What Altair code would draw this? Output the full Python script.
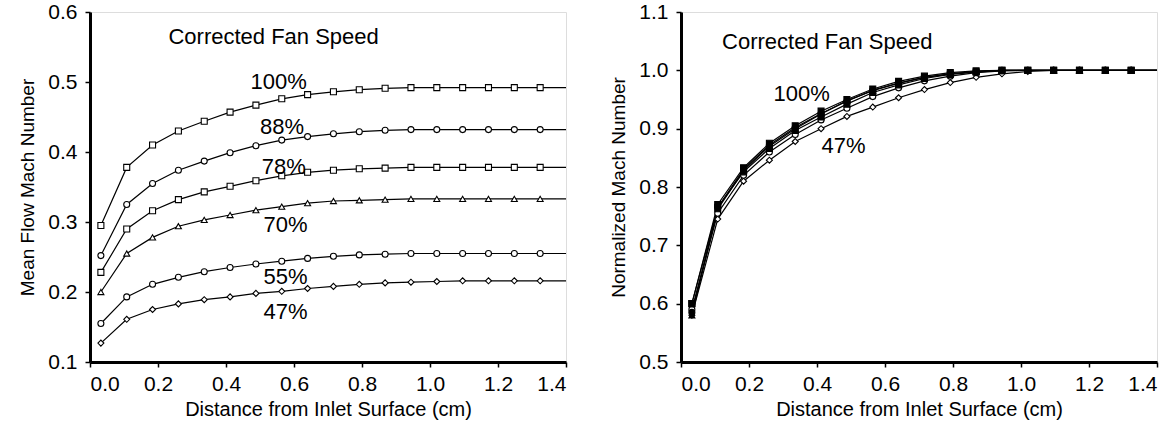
import altair as alt
import pandas as pd

# Distance from inlet surface (cm) for each measurement station
dist = [0.032, 0.108, 0.184, 0.26, 0.336, 0.412, 0.488, 0.564, 0.64, 0.716,
        0.792, 0.868, 0.944, 1.02, 1.096, 1.172, 1.248, 1.324]
# the curves run on (without a marker) to the right frame edge
edge_x = 1.4

speeds = ["100%", "88%", "78%", "70%", "55%", "47%"]

# Left panel: mean flow Mach number
m100 = [0.295, 0.378, 0.41, 0.43, 0.444, 0.457, 0.467, 0.476, 0.482, 0.486, 0.489, 0.491, 0.492, 0.492, 0.492, 0.492, 0.492, 0.492]
m88 = [0.252, 0.325, 0.355, 0.374, 0.387, 0.399, 0.409, 0.417, 0.422, 0.426, 0.429, 0.431, 0.432, 0.432, 0.432, 0.432, 0.432, 0.432]
m78 = [0.228, 0.29, 0.316, 0.332, 0.343, 0.351, 0.359, 0.366, 0.371, 0.374, 0.376, 0.377, 0.378, 0.378, 0.378, 0.378, 0.378, 0.378]
m70 = [0.2, 0.255, 0.278, 0.294, 0.303, 0.31, 0.317, 0.322, 0.327, 0.33, 0.331, 0.332, 0.333, 0.333, 0.333, 0.333, 0.333, 0.333]
m55 = [0.155, 0.193, 0.211, 0.221, 0.229, 0.235, 0.24, 0.244, 0.248, 0.251, 0.253, 0.254, 0.255, 0.255, 0.255, 0.255, 0.255, 0.255]
m47 = [0.127, 0.161, 0.175, 0.183, 0.189, 0.193, 0.198, 0.201, 0.205, 0.208, 0.211, 0.213, 0.214, 0.215, 0.216, 0.216, 0.216, 0.216]
m_edge = [0.492, 0.432, 0.378, 0.333, 0.255, 0.216]

# Right panel: normalized Mach number
n100 = [0.60, 0.77, 0.833, 0.875, 0.905, 0.93, 0.95, 0.968, 0.981, 0.99, 0.996, 0.999, 1.0, 1.0, 1.0, 1.0, 1.0, 1.0]
n88 = [0.585, 0.765, 0.83, 0.872, 0.902, 0.926, 0.947, 0.966, 0.978, 0.988, 0.994, 0.998, 1.0, 1.0, 1.0, 1.0, 1.0, 1.0]
n78 = [0.60, 0.765, 0.826, 0.866, 0.897, 0.92, 0.942, 0.962, 0.975, 0.986, 0.993, 0.997, 1.0, 1.0, 1.0, 1.0, 1.0, 1.0]
n70 = [0.58, 0.762, 0.828, 0.87, 0.9, 0.925, 0.948, 0.965, 0.978, 0.988, 0.994, 0.998, 1.0, 1.0, 1.0, 1.0, 1.0, 1.0]
n55 = [0.59, 0.755, 0.82, 0.86, 0.89, 0.915, 0.935, 0.955, 0.97, 0.982, 0.99, 0.996, 0.999, 1.0, 1.0, 1.0, 1.0, 1.0]
n47 = [0.58, 0.745, 0.81, 0.846, 0.878, 0.9, 0.921, 0.937, 0.953, 0.967, 0.979, 0.988, 0.994, 0.998, 1.0, 1.0, 1.0, 1.0]
n_edge = [1.0, 1.0, 1.0, 1.0, 1.0, 1.0]

# Annotations
left_lbl_text = ["Corrected Fan Speed", "100%", "88%", "78%", "70%", "55%", "47%"]
left_lbl_x = [0.54, 0.555, 0.565, 0.57, 0.575, 0.575, 0.575]
left_lbl_y = [0.565, 0.50, 0.436, 0.379, 0.296, 0.222, 0.171]
right_lbl_text = ["Corrected Fan Speed", "100%", "47%"]
right_lbl_x = [0.43, 0.355, 0.478]
right_lbl_y = [1.048, 0.959, 0.871]

FONT = "Liberation Sans"
shapes = ["square", "circle", "square", "triangle-up", "circle", "diamond"]
right_fill = ["black", "black", "black", "black", "white", "white"]
right_draw_order = ["47%", "55%", "70%", "78%", "100%", "88%"]


def long_df(series, edge, draw_order, with_edge):
    rows = []
    for name in draw_order:
        i = speeds.index(name)
        for x, y in zip(dist, series[i]):
            rows.append({"x": x, "y": y, "speed": name})
        if with_edge:
            rows.append({"x": edge_x, "y": edge[i], "speed": name})
    return pd.DataFrame(rows)


left_series = [m100, m88, m78, m70, m55, m47]
right_series = [n100, n88, n78, n70, n55, n47]
left_line_df = long_df(left_series, m_edge, speeds, True)
left_pt_df = long_df(left_series, m_edge, speeds, False)
right_line_df = long_df(right_series, n_edge, right_draw_order, True)
right_pt_df = long_df(right_series, n_edge, right_draw_order, False)

xaxis = alt.Axis(values=[0, 0.2, 0.4, 0.6, 0.8, 1.0, 1.2, 1.4], format=".1f",
                 title="Distance from Inlet Surface (cm)", grid=False,
                 domainWidth=3, domainColor="black", tickColor="black",
                 tickSize=5, tickWidth=1.5, labelFontSize=21, titleFontSize=20,
                 labelFont=FONT, titleFont=FONT, titleFontWeight="normal",
                 labelColor="black", titleColor="black", labelPadding=6,
                 titlePadding=5)


def yaxis(title, vals):
    return alt.Axis(values=vals, format=".1f", title=title, grid=False,
                    domainWidth=3, domainColor="black", tickColor="black",
                    tickSize=5, tickWidth=1.5, labelFontSize=21, titleFontSize=19,
                    labelFont=FONT, titleFont=FONT, titleFontWeight="normal",
                    labelColor="black", titleColor="black", labelPadding=8,
                    titlePadding=10)


def panel(line_df, pt_df, ydom, ytitle, yvals, fills, lbl_text, lbl_x, lbl_y):
    x = alt.X("x:Q", scale=alt.Scale(domain=[0, 1.4], nice=False), axis=xaxis)
    y = alt.Y("y:Q", scale=alt.Scale(domain=ydom, nice=False, zero=False),
              axis=yaxis(ytitle, yvals))
    lines = alt.Chart(line_df).mark_line(color="black", strokeWidth=1.2).encode(
        x=x, y=y, detail="speed:N")
    pts = alt.Chart(pt_df).mark_point(size=36, strokeWidth=1.1, opacity=1,
                                      filled=True, stroke="black",
                                      fillOpacity=1).encode(
        x=x, y=y,
        shape=alt.Shape("speed:N", scale=alt.Scale(domain=speeds, range=shapes), legend=None),
        fill=alt.Fill("speed:N", scale=alt.Scale(domain=speeds, range=fills), legend=None),
    )
    lab_df = pd.DataFrame({"x": lbl_x, "y": lbl_y, "t": lbl_text})
    labels = alt.Chart(lab_df).mark_text(font=FONT, fontSize=22, color="black",
                                         align="center", baseline="middle").encode(
        x=alt.X("x:Q"), y=alt.Y("y:Q"), text="t:N")
    return alt.layer(lines, pts, labels).properties(width=476, height=350)


left = panel(left_line_df, left_pt_df, [0.1, 0.6], "Mean Flow Mach Number",
             [0.1, 0.2, 0.3, 0.4, 0.5, 0.6], ["white"] * 6,
             left_lbl_text, left_lbl_x, left_lbl_y)
right = panel(right_line_df, right_pt_df, [0.5, 1.1], "Normalized Mach Number",
              [0.5, 0.6, 0.7, 0.8, 0.9, 1.0, 1.1], right_fill,
              right_lbl_text, right_lbl_x, right_lbl_y)

chart = alt.hconcat(left, right, spacing=115, bounds="flush").resolve_scale(
    fill="independent", shape="independent"
).properties(
    padding={"left": 18, "top": 0, "right": 5, "bottom": 5},
).configure_view(stroke="black", strokeWidth=1).configure(background="white")

chart.save("out.html", embed_options={"renderer": "svg", "actions": False})
